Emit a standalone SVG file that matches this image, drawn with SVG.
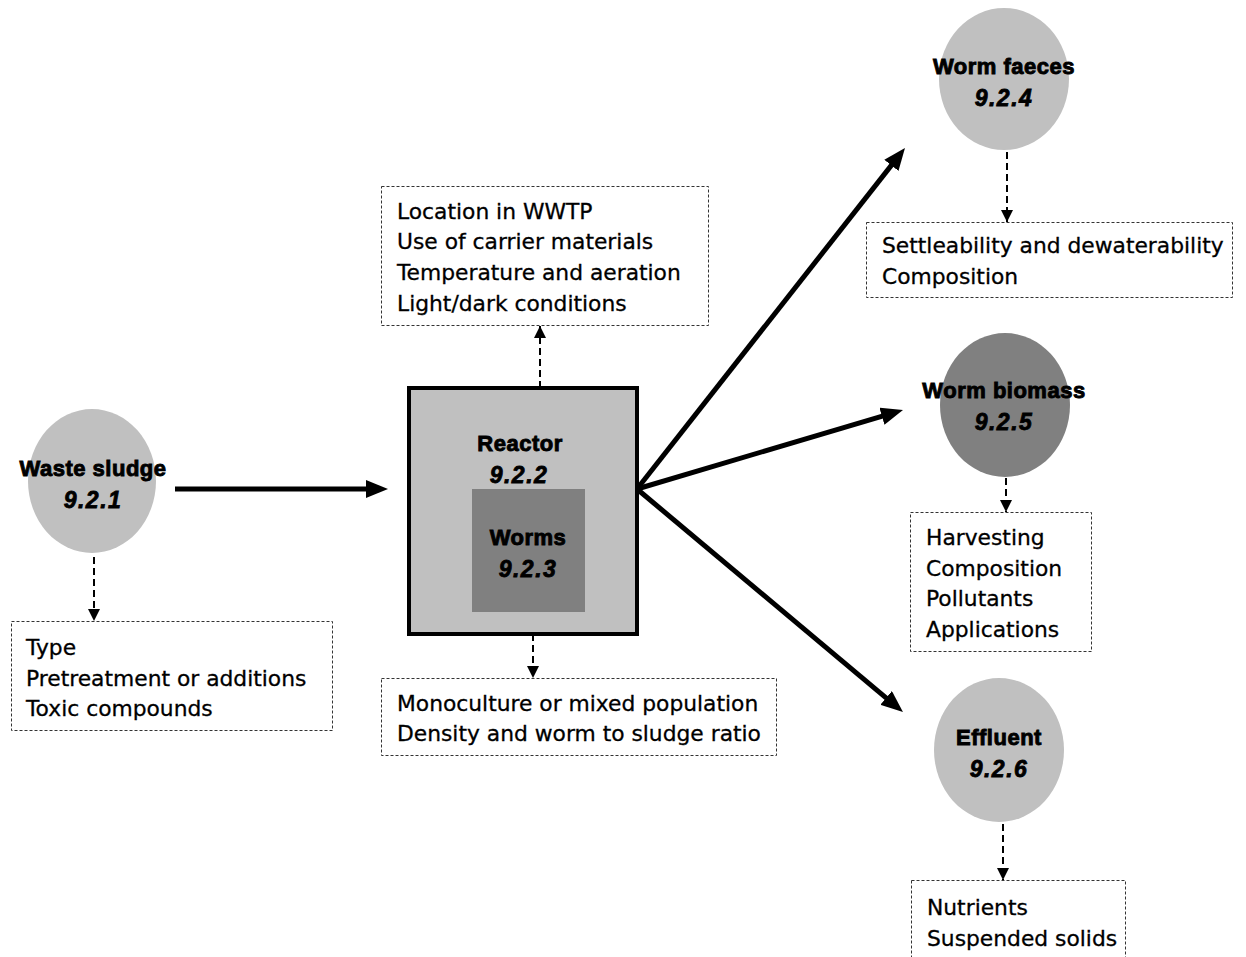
<svg xmlns="http://www.w3.org/2000/svg" width="1246" height="957" viewBox="0 0 1246 957">
<style>
.title{font-family:"Liberation Sans",Arial,sans-serif;font-weight:bold;font-size:22px;letter-spacing:0.5px;fill:#000;stroke:#000;stroke-width:0.9;text-anchor:middle}
.num{font-family:"Liberation Sans",Arial,sans-serif;font-weight:bold;font-style:italic;font-size:23px;letter-spacing:1.5px;fill:#000;stroke:#000;stroke-width:0.8;text-anchor:middle}
.list{font-family:"DejaVu Sans","Liberation Sans",sans-serif;font-size:21.8px;fill:#000;stroke:#000;stroke-width:0.3}
.dbox{fill:#fff;stroke:#333;stroke-width:1;stroke-dasharray:3,2}
.light{fill:#c0c0c0}
.dark{fill:#808080}
.main{stroke:#000;stroke-width:5;fill:none;marker-end:url(#big)}
.dash{stroke:#000;stroke-width:2;stroke-dasharray:7,4;fill:none;marker-end:url(#small)}
</style>
<defs>
<marker id="big" viewBox="0 0 22 18" refX="12" refY="9" markerWidth="22" markerHeight="18" markerUnits="userSpaceOnUse" orient="auto">
<path d="M0,0 L22,9 L0,18 z" fill="#000"/>
</marker>
<marker id="small" viewBox="0 0 12 12" refX="12" refY="6" markerWidth="12" markerHeight="12" markerUnits="userSpaceOnUse" orient="auto">
<path d="M0,0 L12,6 L0,12 z" fill="#000"/>
</marker>
</defs>

<g id="connectors">
<line class="main" x1="175" y1="489" x2="378" y2="489"/>
<line class="main" x1="637" y1="489" x2="898.8" y2="155.9"/>
<line class="main" x1="637" y1="489" x2="893.4" y2="412.8"/>
<line class="main" x1="637" y1="489" x2="895.3" y2="705.6"/>
<line class="dash" x1="94" y1="557" x2="94" y2="621"/>
<line class="dash" x1="540" y1="388" x2="540" y2="326"/>
<line class="dash" x1="533" y1="612" x2="533" y2="678"/>
<line class="dash" x1="1007" y1="152" x2="1007" y2="222"/>
<line class="dash" x1="1006" y1="478" x2="1006" y2="512"/>
<line class="dash" x1="1003" y1="824" x2="1003" y2="880"/>
</g>

<g id="waste-sludge">
<ellipse class="light" cx="92" cy="481" rx="64" ry="72"/>
<text class="title" x="93" y="476">Waste sludge</text>
<text class="num" x="93" y="508">9.2.1</text>
</g>
<g id="waste-sludge-info">
<rect class="dbox" x="11.5" y="621.5" width="321" height="109"/>
<text class="list" x="26" y="655">Type</text>
<text class="list" x="26" y="686">Pretreatment or additions</text>
<text class="list" x="26" y="716">Toxic compounds</text>
</g>

<g id="reactor">
<rect class="light" x="409" y="388" width="228" height="246" stroke="#000" stroke-width="4"/>
<text class="title" x="520" y="451">Reactor</text>
<text class="num" x="519" y="483">9.2.2</text>
</g>
<g id="worms">
<rect class="dark" x="472" y="489" width="113" height="123"/>
<text class="title" x="528" y="545">Worms</text>
<text class="num" x="528" y="577">9.2.3</text>
</g>
<g id="reactor-info">
<rect class="dbox" x="381.5" y="186.5" width="327" height="139"/>
<text class="list" x="397" y="219">Location in WWTP</text>
<text class="list" x="397" y="249">Use of carrier materials</text>
<text class="list" x="397" y="280">Temperature and aeration</text>
<text class="list" x="397" y="311">Light/dark conditions</text>
</g>
<g id="worms-info">
<rect class="dbox" x="381.5" y="678.5" width="395" height="77"/>
<text class="list" x="397" y="711">Monoculture or mixed population</text>
<text class="list" x="397" y="741">Density and worm to sludge ratio</text>
</g>

<g id="worm-faeces">
<ellipse class="light" cx="1004" cy="79" rx="65" ry="71"/>
<text class="title" x="1004" y="74">Worm faeces</text>
<text class="num" x="1004" y="106">9.2.4</text>
</g>
<g id="worm-faeces-info">
<rect class="dbox" x="866.5" y="222.5" width="366" height="75"/>
<text class="list" x="882" y="253">Settleability and dewaterability</text>
<text class="list" x="882" y="284">Composition</text>
</g>

<g id="worm-biomass">
<ellipse class="dark" cx="1005" cy="405" rx="65" ry="72"/>
<text class="title" x="1004" y="398">Worm biomass</text>
<text class="num" x="1004" y="430">9.2.5</text>
</g>
<g id="worm-biomass-info">
<rect class="dbox" x="910.5" y="512.5" width="181" height="139"/>
<text class="list" x="926" y="545">Harvesting</text>
<text class="list" x="926" y="576">Composition</text>
<text class="list" x="926" y="606">Pollutants</text>
<text class="list" x="926" y="637">Applications</text>
</g>

<g id="effluent">
<ellipse class="light" cx="999" cy="750" rx="65" ry="72"/>
<text class="title" x="999" y="745">Effluent</text>
<text class="num" x="999" y="777">9.2.6</text>
</g>
<g id="effluent-info">
<rect class="dbox" x="911.5" y="880.5" width="214" height="90"/>
<text class="list" x="927" y="915">Nutrients</text>
<text class="list" x="927" y="946">Suspended solids</text>
</g>
</svg>
